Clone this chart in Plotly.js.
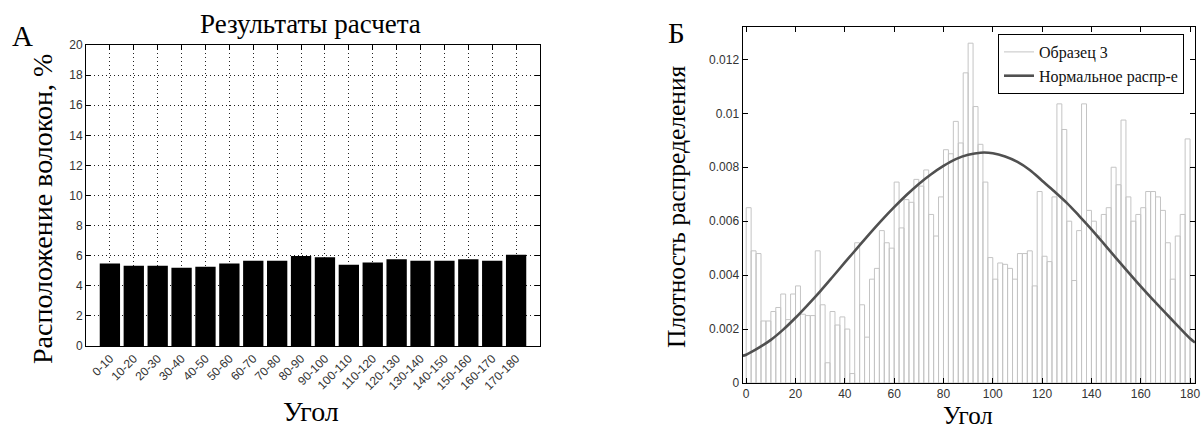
<!DOCTYPE html>
<html>
<head>
<meta charset="utf-8">
<script src="https://cdn.plot.ly/plotly-3.0.1.min.js"></script>
<style>
html,body{margin:0;padding:0;background:#fff;}
#chart{width:1201px;height:430px;}
</style>
</head>
<body>
<div id="chart"></div>
<script>
// ---- Panel A data ----
const angleRanges = ["0-10","10-20","20-30","30-40","40-50","50-60","60-70","70-80","80-90","90-100","100-110","110-120","120-130","130-140","140-150","150-160","160-170","170-180"];
const fiberPercent = [5.49,5.34,5.34,5.2,5.27,5.49,5.67,5.67,5.98,5.89,5.4,5.54,5.76,5.67,5.67,5.76,5.67,6.07];
const yTicksA = [0,2,4,6,8,10,12,14,16,18,20];

// ---- Panel B data ----
const histBinWidth = 2;
const histDensity = [
 0.0065,0.0049,0.0048,0.0023,0.0023,0.00265,0.0028,0.0033,0.00235,0.0033,
 0.0036,0.00255,0.0025,0.0025,0.0049,0.0029,0.00075,0.00265,0.00215,0.00245,
 0.002,0.00035,0.0052,0.0029,0.0017,0.00385,0.00425,0.00565,0.0052,0.005,
 0.00745,0.00575,0.0068,0.0067,0.00755,0.0073,0.0079,0.00625,0.00545,0.0069,
 0.00865,0.0085,0.0097,0.0089,0.0115,0.0126,
 0.01025,0.00885,0.00745,0.00465,0.00385,0.00445,0.0044,0.00425,0.00385,0.0048,
 0.0048,0.0049,0.0036,0.0071,0.0047,0.0045,0.0069,0.01035,0.0094,0.006,
 0.0038,0.00565,0.01035,0.0064,0.006,0.00545,0.00625,0.0065,0.008,0.00735,
 0.00975,0.0069,0.006,0.00625,0.0065,0.0071,0.0071,0.0069,0.0064,0.0052,
 0.00385,0.00545,0.00625,0.00905,0.008
];
const normalX = [-1.5,0,5,10,15,20,25,30,35,40,45,50,55,60,65,70,75,80,85,90,95,100,105,110,115,120,125,130,135,140,145,150,155,160,165,170,175,180,182];
const normalY = [0.00101,0.00105,0.0013,0.0016,0.00198,0.00242,0.0029,0.0034,0.00393,0.00447,0.005,0.00553,0.00604,0.00652,0.00697,0.00738,0.00774,0.00805,0.0083,0.00846,0.00854,0.00852,0.0084,0.0082,0.0079,0.0075,0.0071,0.00668,0.0062,0.0057,0.00517,0.00463,0.0041,0.00358,0.00308,0.0026,0.00212,0.00165,0.0015];
const xTicksB = [0,20,40,60,80,100,120,140,160,180];
const yTicksB = [0,0.002,0.004,0.006,0.008,0.01,0.012];
const yTickTextB = ["0","0.002","0.004","0.006","0.008","0.01","0.012"];

const histCenters = histDensity.map((_, i) => i * histBinWidth + histBinWidth / 2);

const serif = "Liberation Serif, Times New Roman, serif";
const sans = "Liberation Sans, Arial, sans-serif";
const W = 1201, H = 430;
const px = v => v / W, py = v => 1 - v / H;

const traces = [
  {type:"bar", x: angleRanges, y: fiberPercent, xaxis:"x", yaxis:"y",
   width:0.85, marker:{color:"#000", line:{width:0}}, showlegend:false, hoverinfo:"x+y"},
  {type:"bar", x: histCenters, y: histDensity, xaxis:"x2", yaxis:"y2",
   width: histBinWidth, marker:{color:"rgba(255,255,255,0)", line:{color:"#c4c4c4", width:1}},
   showlegend:false, name:"Образец 3"},
  {type:"scatter", mode:"lines", x:[null], y:[null], xaxis:"x2", yaxis:"y2",
   name:"Образец 3", line:{color:"#c4c4c4", width:1}, showlegend:true},
  {type:"scatter", mode:"lines", x: normalX, y: normalY, xaxis:"x2", yaxis:"y2",
   name:"Нормальное распр-е", line:{color:"#505050", width:2.6, shape:"spline", smoothing:1}, showlegend:true}
];

const axisCommon = {
  showline:true, linecolor:"#000", linewidth:1, mirror:"ticks",
  ticks:"inside", ticklen:5, tickcolor:"#000",
  tickfont:{family:sans, size:12, color:"#333"}, zeroline:false, fixedrange:true
};

const layout = {
  width:W, height:H, margin:{l:0,r:0,t:0,b:0},
  paper_bgcolor:"#fff", plot_bgcolor:"#fff",
  barmode:"overlay",
  xaxis: Object.assign({}, axisCommon, {
    domain:[px(86), px(540)], anchor:"y", type:"category",
    range:[-1, 18], tickangle:-45, tickfont:{family:sans, size:12, color:"#333"},
    showgrid:true, gridcolor:"#222", griddash:"1px,3px", gridwidth:1
  }),
  yaxis: Object.assign({}, axisCommon, {
    domain:[py(346), py(45)], anchor:"x", range:[0,20], tickvals:yTicksA,
    showgrid:true, gridcolor:"#222", griddash:"1px,3px", gridwidth:1
  }),
  xaxis2: Object.assign({}, axisCommon, {
    domain:[px(742.5), px(1195)], anchor:"y2", range:[-1.5, 182], tickvals:xTicksB,
    showgrid:false
  }),
  yaxis2: Object.assign({}, axisCommon, {
    domain:[py(383), py(27)], anchor:"x2", range:[0, 0.0132],
    tickvals:yTicksB, ticktext:yTickTextB, showgrid:false
  }),
  legend:{
    x: px(998), y: py(34), xanchor:"left", yanchor:"top",
    bgcolor:"#fff", bordercolor:"#000", borderwidth:1,
    font:{family:serif, size:16, color:"#111"},
    tracegroupgap:0, itemwidth:30
  },
  annotations:[
    {text:"А", x:px(22), y:py(36), xref:"paper", yref:"paper", showarrow:false,
     xanchor:"center", yanchor:"middle", font:{family:serif, size:29, color:"#000"}},
    {text:"Б", x:px(676), y:py(33), xref:"paper", yref:"paper", showarrow:false,
     xanchor:"center", yanchor:"middle", font:{family:serif, size:29, color:"#000"}},
    {text:"Результаты расчета", x:px(310), y:py(24), xref:"paper", yref:"paper", showarrow:false,
     xanchor:"center", yanchor:"middle", font:{family:serif, size:27, color:"#000"}},
    {text:"Расположение волокон, %", x:px(43), y:py(209), xref:"paper", yref:"paper", showarrow:false,
     textangle:-90, xanchor:"center", yanchor:"middle", font:{family:serif, size:28, color:"#000"}},
    {text:"Угол", x:px(311), y:py(411), xref:"paper", yref:"paper", showarrow:false,
     xanchor:"center", yanchor:"middle", font:{family:serif, size:28, color:"#000"}},
    {text:"Плотность распределения", x:px(676), y:py(207), xref:"paper", yref:"paper", showarrow:false,
     textangle:-90, xanchor:"center", yanchor:"middle", font:{family:serif, size:25.5, color:"#000"}},
    {text:"Угол", x:px(968), y:0, xref:"paper", yref:"paper", showarrow:false,
     xanchor:"center", yanchor:"bottom", borderpad:0, font:{family:serif, size:25, color:"#000"}}
  ]
};

Plotly.newPlot("chart", traces, layout, {staticPlot:true, displayModeBar:false});
</script>
</body>
</html>
